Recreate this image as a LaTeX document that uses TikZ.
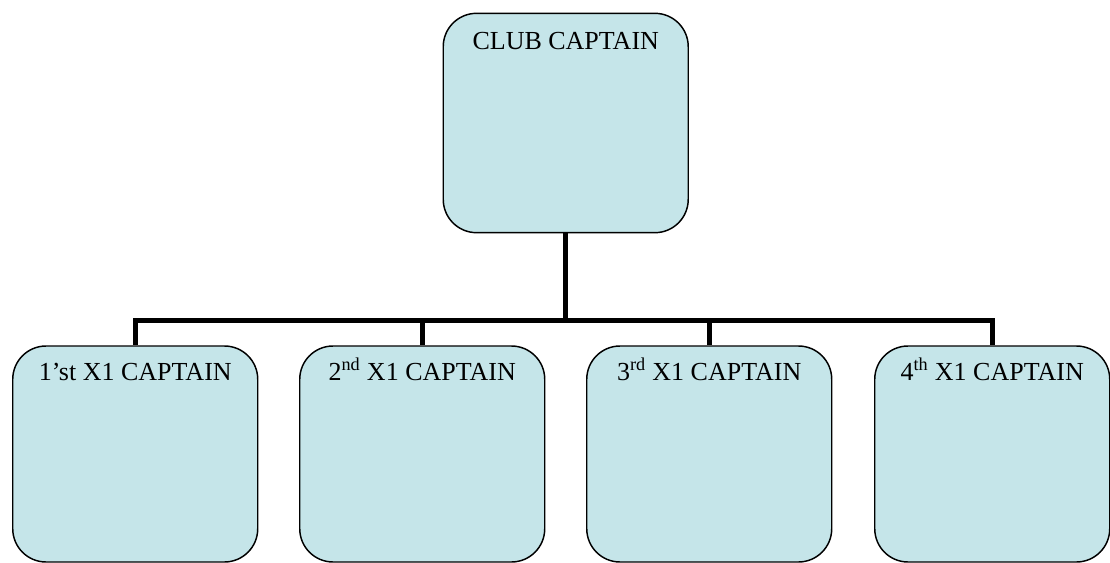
\documentclass[tikz,border=0pt]{standalone}
\usepackage{fontspec}
\setmainfont{Liberation Serif}
\usepackage{xcolor}
\usepackage{tikz}
\usetikzlibrary{trees}
\definecolor{boxfill}{RGB}{197,229,233}

\begin{document}
\begin{tikzpicture}[scale=1.0]
      \tikzset{capt/.style={rectangle,draw=black,line width=1.1pt,fill=boxfill,rounded corners=25pt,
        minimum width=183.75pt,inner xsep=0pt,inner ysep=0pt,align=center,
        font=\fontsize{19.5}{22}\selectfont}}
      \tikzset{topcapt/.style={capt,text height=27.5pt,text depth=137pt}}
      \tikzset{teamcapt/.style={capt,text height=26pt,text depth=136pt}}
      \tikzset{grow=down}
      \tikzset{level 1/.style={level distance=248.25pt,sibling distance=215.25pt}}
      \tikzset{elbow/.style={edge from parent/.style={draw,line width=3.4pt},
        edge from parent path={(\tikzparentnode.south) -- ++(0,-65.25pt) -| (\tikzchildnode.north)}}}
      \def\rootx{424.3pt}
      \def\rooty{-92.25pt}

      \useasboundingbox (0,0) rectangle (832.5pt,-422.25pt);

      \node[topcapt] (club) at (\rootx,\rooty) {CLUB CAPTAIN}
        [elbow]
        child { node[teamcapt] (first) {1'st X1 CAPTAIN} }
        child { node[teamcapt] (second) {2\textsuperscript{nd} X1 CAPTAIN} }
        child { node[teamcapt] (third) {3\textsuperscript{rd} X1 CAPTAIN} }
        child { node[teamcapt,minimum width=176.25pt,xshift=-3pt] (fourth) {4\textsuperscript{th} X1 CAPTAIN} };
    \end{tikzpicture}
\end{document}
